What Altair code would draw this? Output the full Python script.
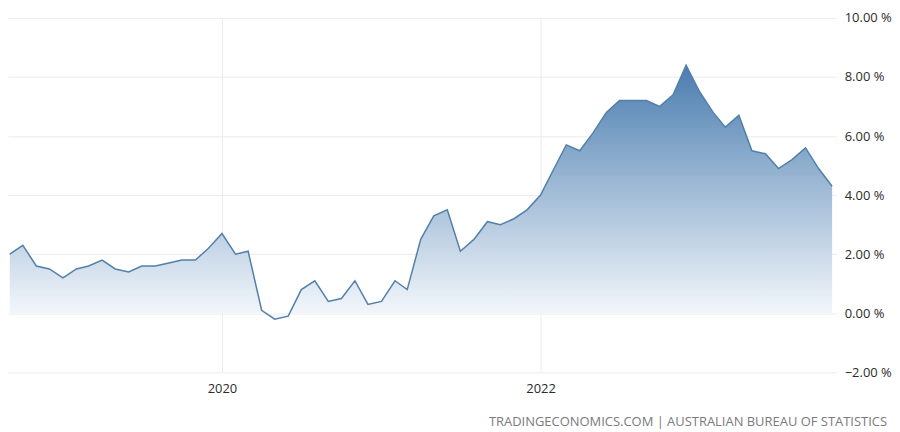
import altair as alt
import pandas as pd

# Monthly observations, Sep 2018 .. Nov 2023
months = [d.strftime("%Y-%m-%dT00:00:00") for d in pd.date_range("2018-09-01", periods=63, freq="MS")]
cpi = [
    2.0, 2.3, 1.6, 1.5,                                              # 2018 Sep-Dec
    1.2, 1.5, 1.6, 1.8, 1.5, 1.4, 1.6, 1.6, 1.7, 1.8, 1.8, 2.2,      # 2019
    2.7, 2.0, 2.1, 0.1, -0.2, -0.1, 0.8, 1.1, 0.4, 0.5, 1.1, 0.3,    # 2020
    0.4, 1.1, 0.8, 2.5, 3.3, 3.5, 2.1, 2.5, 3.1, 3.0, 3.2, 3.5,      # 2021
    4.0, 4.9, 5.7, 5.5, 6.1, 6.8, 7.2, 7.2, 7.2, 7.0, 7.4, 8.4,      # 2022
    7.5, 6.8, 6.3, 6.7, 5.5, 5.4, 4.9, 5.2, 5.6, 4.9, 4.3,           # 2023
]
y_ticks = [-2, 0, 2, 4, 6, 8, 10]
x_tick_years = [2020, 2022]
source_text = ["TRADINGECONOMICS.COM | AUSTRALIAN BUREAU OF STATISTICS"]

df = pd.DataFrame({"date": months, "value": cpi})

FONT = "Open Sans"
GRID = "#ebebeb"
LABEL = "#2b2b2b"

x_enc = alt.X(
    "date:T",
    scale=alt.Scale(domain=[alt.DateTime(year=2018, month=8, date=28),
                            alt.DateTime(year=2023, month=11, date=10, hours=12)]),
    axis=alt.Axis(
        values=[alt.DateTime(year=y, month=1, date=1) for y in x_tick_years],
        format="%Y", title=None, grid=True, gridColor=GRID, gridWidth=1,
        domain=False, ticks=False, labelPadding=10,
        labelFont=FONT, labelFontSize=13, labelColor=LABEL,
    ),
)
y_enc = alt.Y(
    "value:Q",
    scale=alt.Scale(domain=[-2, 10], nice=False, zero=False),
    axis=alt.Axis(
        orient="right", values=y_ticks, title=None,
        labelExpr="format(datum.value, '.2f') + ' %'",
        grid=True, gridColor=GRID, gridWidth=1,
        domain=False, ticks=False, labelPadding=8,
        labelAlign="left", labelBaseline="middle",
        labelFont=FONT, labelFontSize=13, labelColor=LABEL,
    ),
)

base = alt.Chart(df)

area = base.mark_area(
    color=alt.Gradient(
        gradient="linear",
        stops=[
            alt.GradientStop(color="#4a7daf", offset=0),
            alt.GradientStop(color="#a2bcd7", offset=0.5),
            alt.GradientStop(color="#f6f9fc", offset=1),
        ],
        x1=0, x2=0, y1=0, y2=1,
    ),
    opacity=1,
).encode(x=x_enc, y=y_enc, y2=alt.datum(0))

line = base.mark_line(color="#5280aa", strokeWidth=1.5).encode(x=x_enc, y=y_enc)

src = alt.Chart(pd.DataFrame({"t": source_text})).mark_text(
    align="right", baseline="middle", font=FONT, fontSize=13, color="#7a7a7a"
).encode(text="t:N", x=alt.value(883), y=alt.value(406))

chart = alt.layer(area, line, src).properties(
    width=832,
    height=356,
    autosize=alt.AutoSizeParams(type="none"),
    padding={"left": 0, "top": 9, "right": 56, "bottom": 56},
    background="white",
).configure_view(stroke=None)

chart.save("out.html", embed_options={"renderer": "svg", "actions": False})
